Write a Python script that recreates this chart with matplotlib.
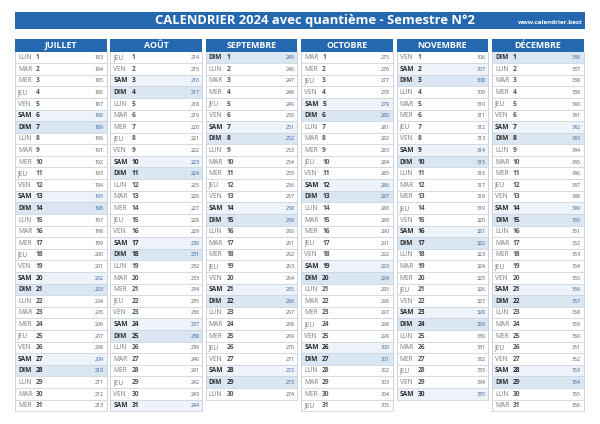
import matplotlib
matplotlib.use("Agg")
from matplotlib import pyplot as plt
from matplotlib.patches import Rectangle

plt.rcParams["font.family"] = ["Open Sans", "DejaVu Sans"]

# données du calendrier
title = "CALENDRIER 2024 avec quantième - Semestre N°2"
site = "www.calendrier.best"
months = ["JUILLET", "AOÛT", "SEPTEMBRE", "OCTOBRE", "NOVEMBRE", "DÉCEMBRE"]
month_days = [31, 31, 30, 31, 30, 31]
first_weekday = [0, 3, 6, 1, 4, 6]  # 0 = lundi
first_doy = [183, 214, 245, 275, 306, 336]
day_names = ["LUN", "MAR", "MER", "JEU", "VEN", "SAM", "DIM"]

blue = "#2468b0"
sun_fill = "#dbe6f3"
sat_fill = "#eef3f9"
line_col = "#ccd5df"

fig = plt.figure(figsize=(6, 4.24), dpi=100)
ax = fig.add_axes([0, 0, 1, 1])
ax.set_xlim(0, 600)
ax.set_ylim(424, 0)
ax.axis("off")

# bandeau titre
ax.add_patch(Rectangle((15, 12), 570, 17, color=blue, lw=0))
ax.text(315, 20.5, title, color="white", fontsize=9.4, fontweight="bold",
        ha="center", va="center")
ax.text(583, 22, site, color="white", fontsize=4.5, fontweight="bold",
        ha="right", va="center")

col_w = 91.5
col_step = 95.4
x0 = 15
head_top = 39
head_h = 12.5
row_h = 11.6

for m, name in enumerate(months):
    left = x0 + m * col_step
    right = left + col_w
    ax.add_patch(Rectangle((left, head_top), col_w, head_h, color=blue, lw=0))
    ax.text(left + col_w / 2, head_top + head_h / 2 + 0.5, name, color="white",
            fontsize=6.4, fontweight="bold", ha="center", va="center")
    top = head_top + head_h
    n = month_days[m]
    for d in range(n):
        wd = (first_weekday[m] + d) % 7
        y = top + d * row_h
        weekend = wd >= 5
        if wd == 6:
            ax.add_patch(Rectangle((left, y), col_w, row_h, color=sun_fill, lw=0))
        elif wd == 5:
            ax.add_patch(Rectangle((left, y), col_w, row_h, color=sat_fill, lw=0))
        ax.plot([left, right], [y + row_h, y + row_h], color=line_col, lw=0.6)
        yc = y + row_h / 2 + 0.3
        ax.text(left + 3, yc, day_names[wd], fontsize=4.8,
                color="#2b2b2b" if weekend else "#7a7a7a",
                fontweight="bold" if weekend else "normal", va="center")
        ax.text(left + 21, yc, str(d + 1), fontsize=4.8,
                color="#2b2b2b" if weekend else "#555555",
                fontweight="bold", va="center")
        ax.text(right - 2.5, yc, str(first_doy[m] + d), fontsize=3.8,
                color="#2e5c96" if weekend else "#555555",
                va="center", ha="right")
    bottom = top + n * row_h
    ax.plot([left, left], [top, bottom], color=line_col, lw=0.7)
    ax.plot([right, right], [top, bottom], color=line_col, lw=0.7)

plt.savefig("out.png", dpi=100)
plt.close()
